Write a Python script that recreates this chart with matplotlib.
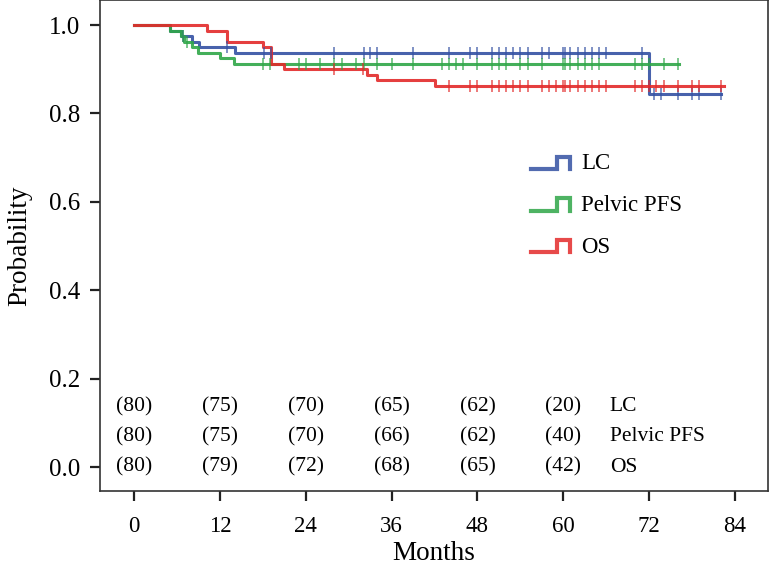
import numpy as np
import matplotlib
matplotlib.use("Agg")
import matplotlib.pyplot as plt
from matplotlib.legend_handler import HandlerBase
from matplotlib.lines import Line2D

# step curves: (time, survival after the step)
lc_times = [0, 5.0, 6.5, 8.1, 9.1, 14.1, 72.0]
lc_surv = [1.0, 0.9875, 0.975, 0.9625, 0.95, 0.9375, 0.844]
lc_end = 82.1
lc_censor = [6.9, 13.0, 18.1, 19.1, 28.0, 32.1, 33.0, 34.0, 39.0, 44.0, 47.0, 48.0,
             50.0, 51.0, 52.0, 53.0, 54.0, 55.0, 57.0, 58.0, 60.0, 60.3, 61.0, 62.0,
             63.0, 64.0, 65.0, 66.0, 71.0, 72.7, 73.6, 76.0, 78.0, 79.0, 82.0]

pfs_times = [0, 5.0, 6.6, 7.0, 8.1, 8.9, 12.0, 14.0]
pfs_surv = [1.0, 0.9875, 0.975, 0.9625, 0.95, 0.9375, 0.925, 0.9125]
pfs_end = 76.1
pfs_censor = [6.9, 7.4, 18.0, 19.0, 23.0, 24.0, 26.0, 28.0, 29.0, 31.0, 32.1, 34.0,
              36.0, 39.0, 43.0, 44.0, 45.0, 46.0, 48.0, 50.0, 51.0, 52.0, 54.0, 55.0,
              57.0, 60.0, 60.3, 61.0, 62.0, 63.0, 64.0, 65.0, 70.0, 71.0, 72.0, 74.0, 76.0]

os_times = [0, 10.2, 13.0, 18.0, 19.1, 20.9, 32.6, 34.0, 42.0]
os_surv = [1.0, 0.9875, 0.9625, 0.95, 0.9125, 0.9, 0.8875, 0.875, 0.8625]
os_end = 82.4
os_censor = [28.0, 32.0, 44.0, 47.0, 48.0, 50.0, 51.0, 52.0, 53.0, 54.0, 55.0, 57.0,
             58.0, 59.0, 60.0, 60.3, 61.0, 62.0, 63.0, 64.0, 65.0, 66.0, 70.0, 71.0,
             72.0, 73.0, 74.0, 76.0, 78.0, 79.0, 82.0]

# numbers at risk
risk_months = [0, 12, 24, 36, 48, 60]
risk_lc = [80, 75, 70, 65, 62, 20]
risk_pfs = [80, 75, 70, 66, 62, 40]
risk_os = [80, 79, 72, 68, 65, 42]

names = ["LC", "Pelvic PFS", "OS"]
colors = ["#3451a3", "#2fa648", "#e32a2a"]

plt.rcParams['font.family'] = ['Liberation Serif', 'DejaVu Serif']


class StepHandler(HandlerBase):
    def create_artists(self, legend, orig_handle, xdescent, ydescent,
                       width, height, fontsize, trans):
        xs = [-xdescent, -xdescent + 0.66 * width, -xdescent + 0.66 * width,
              -xdescent + width, -xdescent + width]
        lo = -ydescent + 0.1 * height
        hi = -ydescent + 0.75 * height
        ys = [lo, lo, hi, hi, lo]
        ln = Line2D(xs, ys, color=orig_handle.get_color(), lw=3.0,
                    solid_joinstyle='miter', alpha=0.85)
        ln.set_transform(trans)
        return [ln]


def step_curve(times, surv, end):
    t = np.append(times, end)
    s = np.append(surv, surv[-1])
    return t, s


def surv_at(times, surv, t):
    idx = np.searchsorted(times, t, side='right') - 1
    return np.asarray(surv)[idx]


fig = plt.figure(figsize=(7.71, 5.71), dpi=100)
ax = fig.add_axes([100 / 771, 80 / 571, 668 / 771, 491 / 571])

series = [(lc_times, lc_surv, lc_end, lc_censor),
          (pfs_times, pfs_surv, pfs_end, pfs_censor),
          (os_times, os_surv, os_end, os_censor)]

handles = []
for (tt, ss, end, cens), name, col in zip(series, names, colors):
    t, s = step_curve(tt, ss, end)
    h, = ax.step(t, s, where='post', color=col, lw=2.2, label=name, zorder=3,
                 alpha=0.9)
    handles.append(h)
    cy = surv_at(tt, ss, np.array(cens))
    ax.plot(cens, cy, linestyle='none', marker='|', markersize=8,
            markeredgewidth=1.1, color=col, alpha=0.8, zorder=4)

# risk table
rows = [(risk_lc, 0.136, "LC"), (risk_pfs, 0.068, "Pelvic PFS"), (risk_os, 0.0, "OS")]
for vals, yy, lab in rows:
    for m, v in zip(risk_months, vals):
        ax.text(m, yy, f"({v})", ha='center', va='center', fontsize=15.5)
    ax.text(66.5, yy, lab, ha='left', va='center', fontsize=15.5)

ax.set_xlim(-4.75, 88.6)
ax.set_ylim(-0.0543, 1.0566)
ax.set_xticks(np.arange(0, 85, 12))
ax.set_yticks(np.arange(0, 1.01, 0.2))
ax.set_yticklabels([f"{v:.1f}" for v in np.arange(0, 1.01, 0.2)])
ax.tick_params(axis='both', length=7, width=1.6, direction='out', color='#222222')
ax.tick_params(axis='x', labelsize=16.5, pad=11)
ax.tick_params(axis='y', labelsize=18, pad=7)
for sp in ax.spines.values():
    sp.set_linewidth(1.2)
    sp.set_color('#333333')

ax.set_xlabel("Months", fontsize=19.5, labelpad=3)
ax.set_ylabel("Probability", fontsize=19.5, labelpad=12)

ax.legend(handles=handles, labels=names, handler_map={h: StepHandler() for h in handles},
          loc='upper left', bbox_to_anchor=(531 / 771, 1 - 152 / 571),
          bbox_transform=fig.transFigure, frameon=False, fontsize=16.5,
          handlelength=1.7, handleheight=0.9, handletextpad=0.48, labelspacing=0.84,
          borderpad=0, borderaxespad=0)

fig.savefig("out.png", dpi=100)
